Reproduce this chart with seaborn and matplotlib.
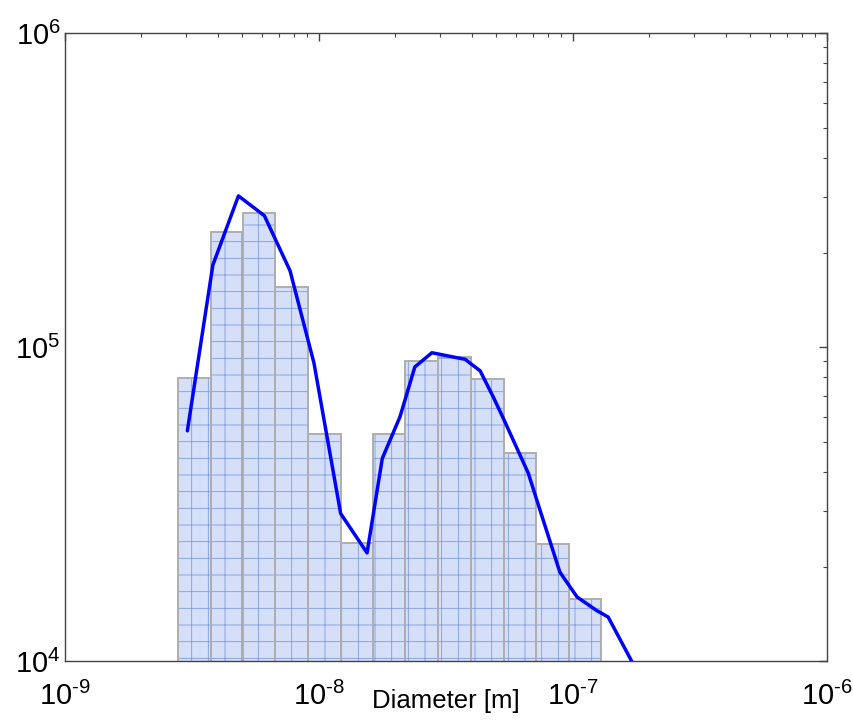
import numpy as np
import matplotlib
matplotlib.use("Agg")
import matplotlib.pyplot as plt
from matplotlib.ticker import FuncFormatter
import seaborn as sns

# ---- data ----
bar_edges = [2.80e-9, 3.76e-9, 5.02e-9, 6.75e-9, 9.09e-9, 1.221e-8, 1.632e-8,
             2.193e-8, 2.949e-8, 3.967e-8, 5.363e-8, 7.20e-8, 9.64e-8, 1.289e-7]
bar_heights = [7.95e4, 2.33e5, 2.666e5, 1.556e5, 5.28e4, 2.37e4, 5.28e4,
               9.05e4, 9.27e4, 7.93e4, 4.61e4, 2.36e4, 1.576e4]

line_x = [3.04e-9, 3.83e-9, 4.83e-9, 6.11e-9, 7.71e-9, 9.58e-9, 1.22e-8,
          1.55e-8, 1.78e-8, 2.09e-8, 2.39e-8, 2.79e-8, 3.77e-8, 4.32e-8,
          4.86e-8, 5.33e-8, 6.69e-8, 7.43e-8, 8.90e-8, 1.04e-7, 1.24e-7,
          1.38e-7, 1.74e-7]
line_y = [5.41e4, 1.824e5, 3.03e5, 2.62e5, 1.75e5, 8.89e4, 2.95e4,
          2.21e4, 4.42e4, 6.0e4, 8.64e4, 9.59e4, 9.14e4, 8.4e4,
          6.95e4, 5.93e4, 3.96e4, 3.03e4, 1.92e4, 1.6e4, 1.45e4,
          1.38e4, 9.7e3]

x_label = "Diameter [m]"
x_limits = (1e-9, 1e-6)
y_limits = (1e4, 1e6)

# ---- style ----
sns.set_style("white")
plt.rcParams["font.family"] = ["Liberation Sans", "DejaVu Sans"]
plt.rcParams["mathtext.fontset"] = "custom"
plt.rcParams["mathtext.rm"] = "Liberation Sans"
plt.rcParams["mathtext.it"] = "Liberation Sans"
plt.rcParams["mathtext.bf"] = "Liberation Sans"
plt.rcParams["axes.unicode_minus"] = False
plt.rcParams["hatch.linewidth"] = 0.6
plt.rcParams["text.color"] = "black"
plt.rcParams["axes.labelcolor"] = "black"

fig = plt.figure(figsize=(8.54, 7.2), dpi=100)
ax = fig.add_axes([0.0758, 0.0819, 0.8922, 0.8722])

edges = np.asarray(bar_edges)
centers = list(np.sqrt(edges[:-1] * edges[1:]))
log_bins = list(np.log10(edges))

# fill layer
sns.histplot(x=centers, weights=bar_heights, bins=log_bins, log_scale=True,
             ax=ax, color="#d5dff8", alpha=1.0, linewidth=0, edgecolor="none")
# coarse grid hatch layer
n0 = len(ax.patches)
sns.histplot(x=centers, weights=bar_heights, bins=log_bins, log_scale=True,
             ax=ax, fill=True, alpha=1.0, linewidth=0)
for p in ax.patches[n0:]:
    p.set_facecolor("none")
    p.set_edgecolor("#7f9be8")
    p.set_hatch("+")
    p.set_linewidth(0)
# outline layer
n1 = len(ax.patches)
sns.histplot(x=centers, weights=bar_heights, bins=log_bins, log_scale=True,
             ax=ax, fill=True, alpha=1.0, linewidth=1.4)
for p in ax.patches[n1:]:
    p.set_facecolor("none")
    p.set_edgecolor("#aeaeae")

sns.lineplot(x=line_x, y=line_y, ax=ax, color="#0000ff", linewidth=2.5,
             sort=False, estimator=None, zorder=5)

ax.set_yscale("log")
ax.set_xlim(*x_limits)
ax.set_ylim(*y_limits)
ax.set_ylabel("")


def pow10(v, pos):
    e = int(round(np.log10(v)))
    s = ("\u2010" if e < 0 else "") + str(abs(e))
    return "$\\mathdefault{10^{" + s + "}}$"


ax.xaxis.set_major_formatter(FuncFormatter(pow10))
ax.yaxis.set_major_formatter(FuncFormatter(pow10))

ax.set_xlabel(x_label, fontsize=18.5, color="black")
ax.xaxis.label.set_va("baseline")
ax.xaxis.set_label_coords(0.5, -0.075)

ax.tick_params(which="both", direction="in", top=True, right=True,
               colors="#444444", labelcolor="black")
ax.tick_params(which="major", length=6, width=1, labelsize=21)
ax.tick_params(which="minor", length=3, width=0.8)
ax.tick_params(axis="x", which="major", pad=15)
ax.tick_params(axis="y", which="major", pad=3)
for s in ax.spines.values():
    s.set_color("#444444")
    s.set_linewidth(1.0)
    s.set_visible(True)

fig.savefig("out.png", dpi=100)
